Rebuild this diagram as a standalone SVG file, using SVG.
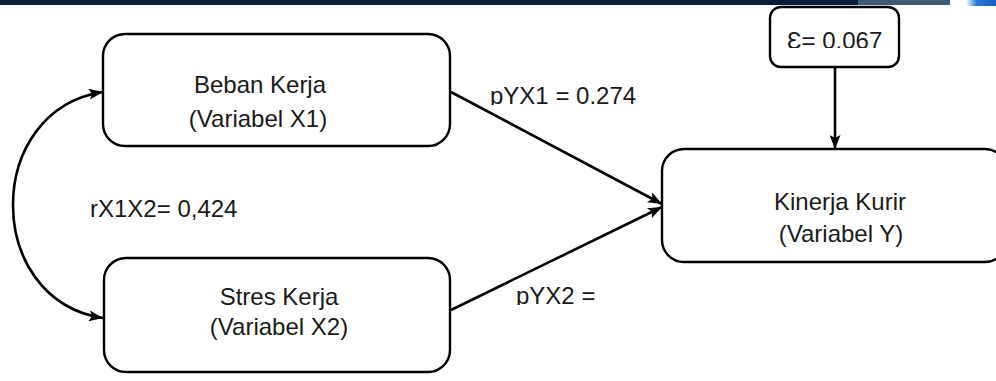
<svg xmlns="http://www.w3.org/2000/svg" width="996" height="381" viewBox="0 0 996 381">
<style>
.box{fill:#fff;stroke:#000;stroke-width:2.4}
.t{font-family:"Liberation Sans",Arial,sans-serif;font-size:24px;fill:#1a1a1a}
.c{text-anchor:middle}
.ln{fill:none;stroke:#000;stroke-width:2.6}
</style>
<defs>
<marker id="ah" viewBox="0 0 14 11" refX="14" refY="5.5" markerWidth="14" markerHeight="11" markerUnits="userSpaceOnUse" orient="auto-start-reverse">
<path d="M0,0 L14,5.5 L0,11 L3,5.5 Z" fill="#000"/>
</marker>
<linearGradient id="bl" x1="0" x2="1" y1="0" y2="0">
<stop offset="0" stop-color="#ffffff"/>
<stop offset="0.35" stop-color="#2a7ad8"/>
<stop offset="1" stop-color="#1560c8"/>
</linearGradient>
<clipPath id="c1"><rect x="480" y="80" width="180" height="25"/></clipPath>
<clipPath id="c2"><rect x="480" y="280" width="180" height="25"/></clipPath>
<clipPath id="c3"><rect x="775" y="20" width="120" height="28"/></clipPath>
</defs>
<g id="topbar">
<rect x="0" y="0" width="858" height="5" fill="#0b1c3c"/>
<rect x="858" y="0" width="92" height="5" fill="#3e5a76"/>
<rect x="966" y="0" width="30" height="6" fill="url(#bl)"/>
</g>
<g id="connectors">
<line class="ln" x1="451" y1="92" x2="662" y2="204" marker-end="url(#ah)"/>
<line class="ln" x1="451" y1="310" x2="662" y2="207" marker-end="url(#ah)"/>
<line class="ln" x1="835" y1="67" x2="835" y2="149" marker-end="url(#ah)"/>
<path class="ln" d="M103,92 C-17,110 -17,300 103,318" marker-start="url(#ah)" marker-end="url(#ah)"/>
</g>
<g id="node-x1">
<rect class="box" x="103" y="34" width="347" height="112" rx="22"/>
<text class="t c" x="260" y="93">Beban Kerja</text>
<text class="t c" x="258" y="127">(Variabel X1)</text>
</g>
<g id="node-x2">
<rect class="box" x="104" y="258" width="346" height="114" rx="22"/>
<text class="t c" x="279" y="305">Stres Kerja</text>
<text class="t c" x="279" y="335">(Variabel X2)</text>
</g>
<g id="node-y">
<rect class="box" x="662" y="149" width="345" height="113" rx="22"/>
<text class="t c" x="840" y="210">Kinerja Kurir</text>
<text class="t c" x="841" y="242">(Variabel Y)</text>
</g>
<g id="node-e">
<rect class="box" x="770" y="7" width="129" height="60" rx="11"/>
<text class="t" x="787" y="49" clip-path="url(#c3)">Ɛ= 0.067</text>
</g>
<g id="labels">
<text class="t" x="490" y="104" clip-path="url(#c1)">pYX1 = 0.274</text>
<text class="t" x="516" y="304" clip-path="url(#c2)">pYX2 =</text>
<text class="t" x="90" y="217">rX1X2= 0,424</text>
</g>
</svg>
